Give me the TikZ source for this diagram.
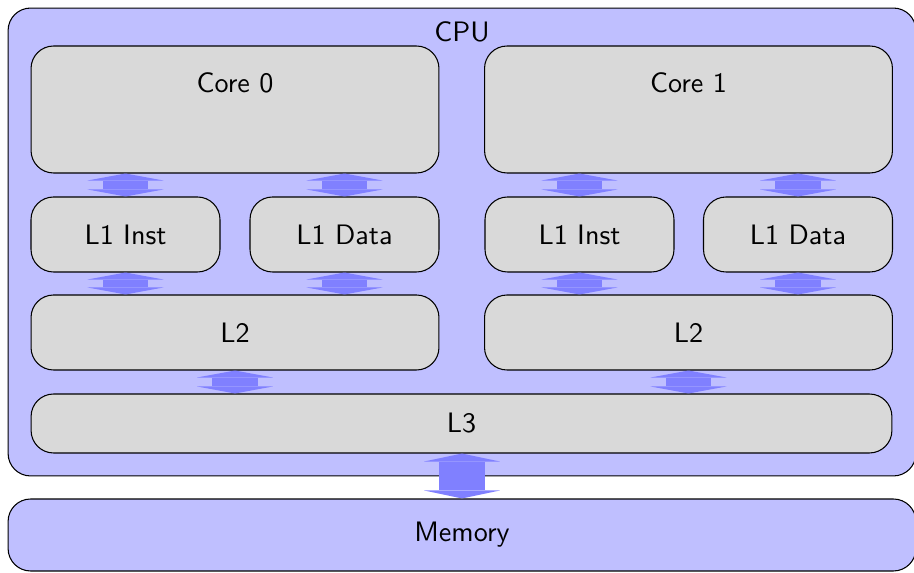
\documentclass[tikz,border=0pt]{standalone}
\usepackage{tikz}
\usetikzlibrary{arrows.meta, positioning}
\newcommand{\bigtext}[1]{\scalebox{1.6}{#1}}

\begin{document}
\begin{tikzpicture}[
    x=0.02cm, y=-0.02cm,
    every node/.style={font=\sffamily},
    chip/.style={rectangle, rounded corners=0.45cm, draw=black, line width=0.6pt, fill=blue!25},
    unit/.style={rectangle, rounded corners=0.45cm, draw=black, line width=0.6pt, fill=black!15},
    bus/.style={draw=blue!50, line width=0.92cm,
        {Triangle[width=1.52cm, length=0.14cm, line width=0pt]}-{Triangle[width=1.52cm, length=0.14cm, line width=0pt]}}
]
    \useasboundingbox (0,0) rectangle (914,573);

    % CPU and memory
    \node[chip, minimum width=18.16cm, minimum height=9.36cm] (cpu) at (462, 242) {};
    \node (cpulbl) at (462, 32) {\bigtext{CPU}};
    \node[chip, minimum width=18.16cm, minimum height=1.44cm] (mem) at (462, 535) {\bigtext{Memory}};

    % Cores
    \node[unit, minimum width=8.16cm, minimum height=2.54cm] (core0) at (235, 109.5) {};
    \node (core0lbl) at (235, 83) {\bigtext{Core 0}};
    \node[unit, minimum width=8.16cm, minimum height=2.54cm] (core1) at (688.5, 109.5) {};
    \node (core1lbl) at (688.5, 83) {\bigtext{Core 1}};

    % L1 caches
    \node[unit, minimum width=3.78cm, minimum height=1.5cm] (l1i0) at (125.5, 234.5) {\bigtext{L1 Inst}};
    \node[unit, minimum width=3.78cm, minimum height=1.5cm] (l1d0) at (344.5, 234.5) {\bigtext{L1 Data}};
    \node[unit, minimum width=3.78cm, minimum height=1.5cm] (l1i1) at (579.5, 234.5) {\bigtext{L1 Inst}};
    \node[unit, minimum width=3.78cm, minimum height=1.5cm] (l1d1) at (798, 234.5) {\bigtext{L1 Data}};

    % L2 and L3
    \node[unit, minimum width=8.16cm, minimum height=1.5cm] (l20) at (235, 332.5) {\bigtext{L2}};
    \node[unit, minimum width=8.16cm, minimum height=1.5cm] (l21) at (688.5, 332.5) {\bigtext{L2}};
    \node[unit, minimum width=17.22cm, minimum height=1.18cm] (l3) at (461.5, 423.5) {\bigtext{L3}};

    % Buses
    \foreach \c in {0,1} {
        \draw[bus] (l1i\c.north |- core\c.south) -- (l1i\c.north);
        \draw[bus] (l1d\c.north |- core\c.south) -- (l1d\c.north);
        \draw[bus] (l1i\c.south) -- (l1i\c.south |- l2\c.north);
        \draw[bus] (l1d\c.south) -- (l1d\c.south |- l2\c.north);
        \draw[bus] (l2\c.south) -- (l2\c.south |- l3.north);
    }
    \draw[bus, {Triangle[width=1.52cm, length=0.16cm, line width=0pt]}-{Triangle[width=1.52cm, length=0.16cm, line width=0pt]}] (mem.north |- l3.south) -- (mem.north);
\end{tikzpicture}
\end{document}
